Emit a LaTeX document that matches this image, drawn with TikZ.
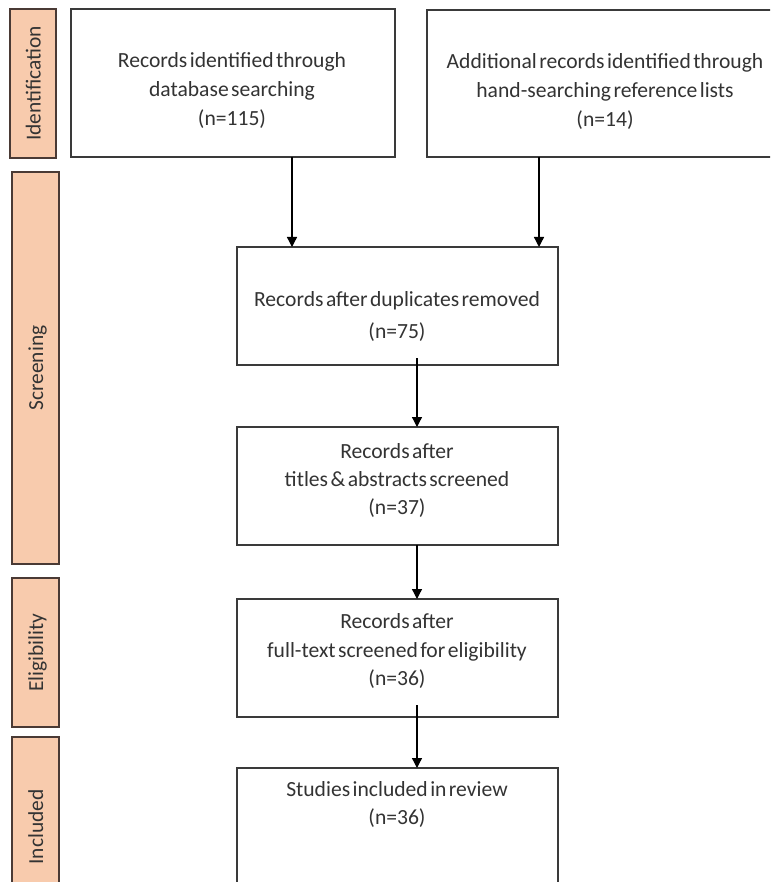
\documentclass[tikz,border=0pt]{standalone}
\usepackage{fontspec}
\setmainfont{Carlito}[WordSpace=0.5]
\usetikzlibrary{arrows.meta,calc}
\definecolor{peach}{HTML}{F8CBAD}
\definecolor{stageborder}{HTML}{4A3A35}
\definecolor{boxborder}{HTML}{3A3A3A}
\definecolor{txt}{HTML}{333333}
\begin{document}
\begin{tikzpicture}[x=1pt,y=-1pt,
  box/.style={draw=boxborder, line width=1.3pt, fill=white, anchor=north west, inner sep=0pt, outer sep=0pt},
  stage/.style={draw=stageborder, line width=1.5pt, fill=peach, anchor=north west, inner sep=0pt, outer sep=0pt},
  stagetext/.style={rotate=90, inner sep=0pt, text=txt, text height=15pt, text depth=0pt, font=\fontsize{21.4}{25}\selectfont},
  boxtext/.style={align=center, inner sep=0pt, text=txt, font=\fontsize{21.6}{#1}\selectfont},
  boxtext/.default=29,
  arr/.style={-{Triangle[length=10pt,width=10pt]}, line width=1.3pt, black}]
\useasboundingbox (0,0) rectangle (770,882);
\clip (0,0) rectangle (770,882);
\fill[white] (0,0) rectangle (770,882);
% stage labels
\node[stage, minimum width=46pt, minimum height=149pt] (s1) at (10,9) {};
\node[stagetext] (s1t) at (s1.center) {Identification};
\node[stage, minimum width=47pt, minimum height=392pt] (s2) at (12,172) {};
\node[stagetext] (s2t) at (s2.center) {Screening};
\node[stage, minimum width=47pt, minimum height=149pt] (s3) at (12,578) {};
\node[stagetext] (s3t) at (s3.center) {Eligibility};
\node[stage, minimum width=47pt, minimum height=180pt] (s4) at (12,737) {};
\node[stagetext] (s4t) at (s4.center) {Included};
% boxes
\node[box, minimum width=324pt, minimum height=148pt] (b1) at (71,9) {};
\node[box, minimum width=356pt, minimum height=147pt] (b2) at (427,10) {};
\node[box, minimum width=321pt, minimum height=118pt] (b3) at (237,247) {};
\node[box, minimum width=321pt, minimum height=118pt] (b4) at (237,427) {};
\node[box, minimum width=321pt, minimum height=118pt] (b5) at (237,599) {};
\node[box, minimum width=321pt, minimum height=150pt] (b6) at (237,768) {};
% texts
\node[boxtext] (t1) at (232,91) {Records identified through\\database searching\\(n=115)};
\node[boxtext] (t2) at (605,92) {Additional records identified through\\hand-searching reference lists\\(n=14)};
\node[boxtext=32] (t3) at (397,316) {Records after duplicates removed\\(n=75)};
\node[boxtext=28] (t4) at (397,480) {Records after\\titles \& abstracts screened\\(n=37)};
\node[boxtext=28.5] (t5) at (397,651) {Records after\\full-text screened for eligibility\\(n=36)};
\node[boxtext=28] (t6) at (397,804) {Studies included in review\\(n=36)};
% arrows
\coordinate (xa) at (292,0);
\coordinate (xb) at (539,0);
\coordinate (xc) at (417,0);
\draw[arr] (b1.south -| xa) -- (b3.north -| xa);
\draw[arr] (b2.south -| xb) -- (b3.north -| xb);
\draw[arr] ($(b3.south -| xc)+(0,-7)$) -- (b4.north -| xc);
\draw[arr] (b4.south -| xc) -- (b5.north -| xc);
\draw[arr] ($(b5.south -| xc)+(0,-12)$) -- (b6.north -| xc);
\end{tikzpicture}
\end{document}
